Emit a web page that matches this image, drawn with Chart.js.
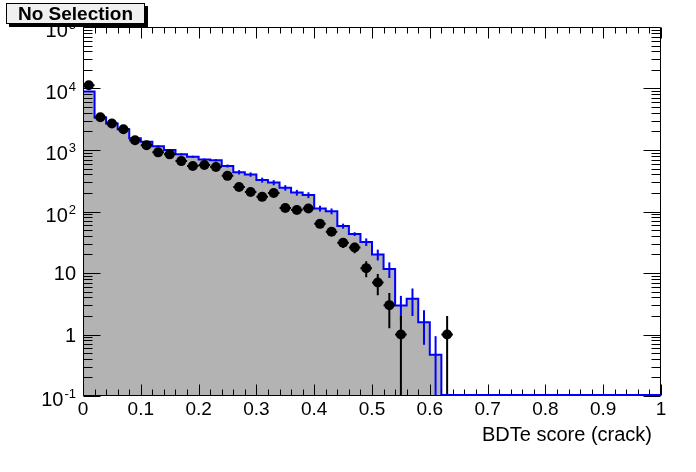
<!DOCTYPE html>
<html>
<head>
<meta charset="utf-8">
<title>BDTe score (crack)</title>
<script src="https://cdn.jsdelivr.net/npm/chart.js@4.4.1/dist/chart.umd.min.js"></script>
<style>
    html, body { margin: 0; padding: 0; background: #ffffff; }
    #wrap { position: relative; width: 696px; height: 472px; }
    #plotTitle {
        position: absolute; left: 6px; top: 3px; width: 139px; height: 21px;
        box-sizing: border-box; background: #f0f0f0; border: 1px solid #000;
        box-shadow: 3px 3px 0 #000;
        font: bold 19px "Liberation Sans", Arial, sans-serif;
        line-height: 19px; text-align: center; color: #000;
    }
</style>
</head>
<body>
<div id="wrap">
    <canvas id="bdtChart" width="696" height="472"></canvas>
    <div id="plotTitle">No Selection</div>
</div>
<script>
// histogram binning: 50 bins of 0.02 between 0 and 1
const binWidth = 0.02;
const xMin = 0;
const xMax = 1;
const yMin = 0.1;
const yMax = 1e5;

// data (black points), counts per bin
const dataCounts = [
    11300, 3400, 2690, 2170, 1445, 1200, 915, 850, 660, 550,
    570, 530, 380, 250, 207, 173, 200, 114, 106, 112,
    63, 47, 31, 26, 12, 7, 3, 1, 0, 0,
    0, 1, 0, 0, 0, 0, 0, 0, 0, 0,
    0, 0, 0, 0, 0, 0, 0, 0, 0, 0
];

// simulation (grey filled histogram with blue outline)
const mcCounts = [
    8900, 3370, 2700, 2180, 1550, 1360, 1150, 1000, 850, 775,
    700, 680, 550, 435, 400, 325, 295, 243, 203, 185,
    112, 101, 58, 43, 32, 20, 11.6, 2.95, 3.8, 1.58,
    0.47, 0, 0, 0, 0, 0, 0, 0, 0, 0,
    0, 0, 0, 0, 0, 0, 0, 0, 0, 0
];

const mcErrors = [
    150, 70, 60, 55, 45, 40, 38, 35, 33, 32,
    30, 30, 30, 35, 33, 30, 28, 25, 22, 20,
    12, 11, 5.5, 3, 4.5, 4, 3.3, 1.3, 1.8, 0.9,
    0.47, 0, 0, 0, 0, 0, 0, 0, 0, 0,
    0, 0, 0, 0, 0, 0, 0, 0, 0, 0
];

const xTickLabels = ["0", "0.1", "0.2", "0.3", "0.4", "0.5", "0.6", "0.7", "0.8", "0.9", "1"];
// [base, exponent] for each decade from 10^-1 to 10^5
const yTickLabels = [["10", "-1"], ["1", ""], ["10", ""], ["10", "2"], ["10", "3"], ["10", "4"], ["10", "5"]];
const xTitle = "BDTe score (crack)";

const FONT = "\"Liberation Sans\", Arial, sans-serif";

document.addEventListener("DOMContentLoaded", () => {
    const ctx = document.getElementById("bdtChart").getContext("2d");

    // step outline: one point per lower bin edge, plus the upper edge of the last bin
    // empty bins sit on the bottom of the axis, as ROOT draws them
    const mcStep = mcCounts.map((v, i) => ({ x: xMin + i * binWidth, y: v > 0 ? v : yMin }));
    mcStep.push({ x: xMax, y: mcStep[mcStep.length - 1].y });

    const dataPoints = dataCounts.map((v, i) => ({
        x: xMin + (i + 0.5) * binWidth,
        y: v > 0 ? v : null
    }));

    const dataErrors = dataCounts.map(v => Math.sqrt(v));

    const drawBars = (chart, values, errors, color, withHoriz) => {
        const c = chart.ctx;
        const xs = chart.scales.x;
        const ys = chart.scales.y;
        const area = chart.chartArea;
        c.save();
        c.strokeStyle = color;
        c.lineWidth = 2;
        values.forEach((v, i) => {
            if (!(v > 0)) return;
            const e = errors[i];
            const cx = xs.getPixelForValue(xMin + (i + 0.5) * binWidth);
            const yHi = ys.getPixelForValue(v + e);
            const yLo = v - e > yMin ? ys.getPixelForValue(v - e) : area.bottom;
            c.beginPath();
            c.moveTo(cx, yHi);
            c.lineTo(cx, yLo);
            if (withHoriz) {
                const cy = ys.getPixelForValue(v);
                c.moveTo(xs.getPixelForValue(xMin + i * binWidth), cy);
                c.lineTo(xs.getPixelForValue(xMin + (i + 1) * binWidth), cy);
            }
            c.stroke();
        });
        c.restore();
    };

    const errorBarPlugin = {
        id: "errorBars",
        afterDatasetDraw(chart, args) {
            if (chart.data.datasets[args.index].label === "MC") {
                drawBars(chart, mcCounts, mcErrors, "#0000ff", false);
            }
        },
        beforeDatasetDraw(chart, args) {
            if (chart.data.datasets[args.index].label === "Data") {
                drawBars(chart, dataCounts, dataErrors, "#000000", true);
            }
        }
    };

    // ROOT-like frame with ticks on all four sides and 10^n labels
    const framePlugin = {
        id: "rootFrame",
        afterDatasetsDraw(chart) {
            const c = chart.ctx;
            const xs = chart.scales.x;
            const ys = chart.scales.y;
            const a = chart.chartArea;
            const L = Math.round(a.left) + 0.5;
            const R = Math.round(a.right) - 0.5;
            const T = Math.round(a.top) + 0.5;
            const B = Math.round(a.bottom) - 0.5;

            c.save();
            c.strokeStyle = "#000";
            c.lineWidth = 1;
            c.beginPath();
            c.rect(L, T, R - L, B - T);

            const nx = Math.round((xMax - xMin) / binWidth);
            for (let k = 0; k <= nx; k++) {
                const px = Math.round(xs.getPixelForValue(xMin + k * binWidth)) + 0.5;
                const len = k % 5 === 0 ? 11 : 6;
                c.moveTo(px, B);
                c.lineTo(px, B - len);
                c.moveTo(px, T);
                c.lineTo(px, T + len);
            }

            for (let d = -1; d <= 4; d++) {
                for (let m = 1; m <= 9; m++) {
                    const py = Math.round(ys.getPixelForValue(m * Math.pow(10, d))) + 0.5;
                    const len = m === 1 ? 17 : 9;
                    c.moveTo(L, py);
                    c.lineTo(L + len, py);
                    c.moveTo(R, py);
                    c.lineTo(R - len, py);
                }
            }
            c.stroke();

            // empty MC bins: the blue outline runs along the bottom of the frame
            c.strokeStyle = "#0000ff";
            c.lineWidth = 2;
            c.beginPath();
            mcCounts.forEach((v, i) => {
                if (v > 0) return;
                c.moveTo(xs.getPixelForValue(xMin + i * binWidth), a.bottom - 1);
                c.lineTo(xs.getPixelForValue(xMin + (i + 1) * binWidth), a.bottom - 1);
            });
            c.stroke();

            // y labels with superscript exponents
            c.fillStyle = "#000";
            c.textBaseline = "alphabetic";
            c.textAlign = "right";
            yTickLabels.forEach((lab, i) => {
                const py = ys.getPixelForValue(Math.pow(10, i - 1));
                const [base, exp] = lab;
                const rightX = a.left - 7;
                if (exp) {
                    c.font = "13px " + FONT;
                    const ew = c.measureText(exp).width;
                    c.fillText(exp, rightX, py + 2);
                    c.font = "20px " + FONT;
                    c.fillText(base, rightX - ew - 1, py + 10);
                } else {
                    c.font = "20px " + FONT;
                    c.fillText(base, rightX, py + 7);
                }
            });

            // x axis title, right aligned under the axis
            c.font = "20px " + FONT;
            c.textAlign = "right";
            c.fillText(xTitle, a.right - 9, a.bottom + 45);
            c.restore();
        }
    };

    new Chart(ctx, {
        data: {
            datasets: [
                {
                    type: "scatter",
                    label: "Data",
                    data: dataPoints,
                    order: 0,
                    pointRadius: 5,
                    pointStyle: "circle",
                    pointBackgroundColor: "#000000",
                    pointBorderWidth: 0,
                    showLine: false
                },
                {
                    type: "line",
                    label: "MC",
                    data: mcStep,
                    order: 1,
                    stepped: true,
                    borderColor: "#0000ff",
                    borderWidth: 2,
                    backgroundColor: "#b3b3b3",
                    fill: "start",
                    pointRadius: 0,
                    tension: 0
                }
            ]
        },
        options: {
            responsive: false,
            animation: false,
            events: [],
            layout: { padding: { left: 0, right: 35, top: 27, bottom: 0 } },
            plugins: {
                legend: { display: false },
                tooltip: { enabled: false }
            },
            scales: {
                x: {
                    type: "linear",
                    min: xMin,
                    max: xMax,
                    grid: { display: false, drawTicks: false },
                    border: { display: false },
                    ticks: {
                        stepSize: 0.1,
                        padding: 2,
                        maxRotation: 0,
                        autoSkip: false,
                        color: "#000",
                        font: { family: FONT, size: 19 },
                        callback: (value) => xTickLabels[Math.round((value - xMin) * 10)]
                    },
                    afterFit: (scale) => { scale.height = 76; }
                },
                y: {
                    type: "logarithmic",
                    min: yMin,
                    max: yMax,
                    grid: { display: false, drawTicks: false },
                    border: { display: false },
                    ticks: { display: false },
                    afterFit: (scale) => { scale.width = 83; }
                }
            }
        },
        plugins: [errorBarPlugin, framePlugin]
    });
});
</script>
</body>
</html>
